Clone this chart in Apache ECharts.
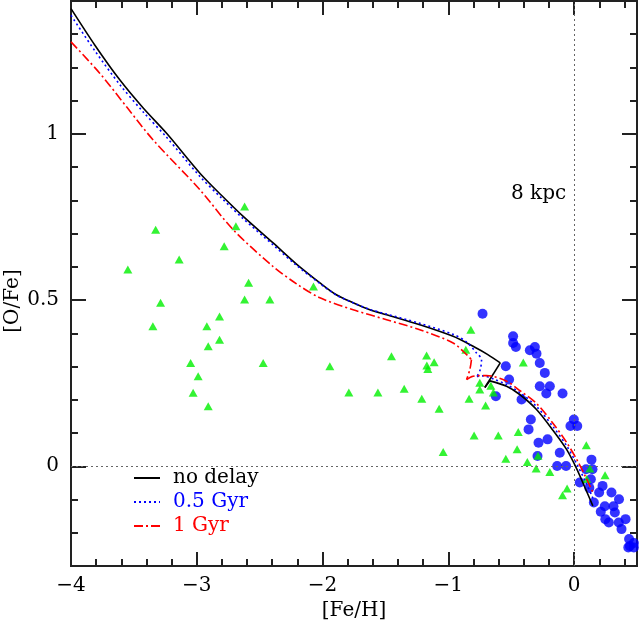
<!DOCTYPE html>
<html>
<head>
<meta charset="utf-8">
<title>[O/Fe] vs [Fe/H]</title>
<script src="https://cdn.jsdelivr.net/npm/echarts@6/dist/echarts.min.js"></script>
<style>
	html, body { margin: 0; padding: 0; background: #fff; }
	#chart { width: 639px; height: 629px; }
</style>
</head>
<body>
<div id="chart"></div>
<script>
'use strict';

/* model tracks, [Fe/H] and [O/Fe]; *Kinks = indices of sharp corners */
var noDelayFe = [-4.000, -3.810, -3.611, -3.426, -3.240, -2.975, -2.800, -2.631, -2.393, -2.212, -2.021, -1.894, -1.757, -1.624, -1.491, -1.227, -0.962, -0.789, -0.686, -0.587, -0.710, -0.670, -0.537, -0.432, -0.299, -0.167, -0.060, 0.019, 0.085, 0.149];
var noDelayO  = [1.377, 1.267, 1.162, 1.078, 1.002, 0.882, 0.814, 0.752, 0.672, 0.610, 0.552, 0.517, 0.492, 0.471, 0.456, 0.426, 0.391, 0.358, 0.336, 0.311, 0.237, 0.257, 0.241, 0.216, 0.171, 0.108, 0.051, -0.006, -0.063, -0.119];
var noDelayKinks = [19, 20, 21];

var gyr05Fe = [-4.000, -3.810, -3.611, -3.426, -3.240, -2.975, -2.800, -2.631, -2.393, -2.212, -2.021, -1.894, -1.757, -1.624, -1.491, -1.227, -0.962, -0.855, -0.776, -0.736, -0.746, -0.773, -0.726, -0.630, -0.537, -0.432, -0.299, -0.167, -0.060, 0.024, 0.093, 0.149];
var gyr05O  = [1.357, 1.250, 1.148, 1.066, 0.990, 0.872, 0.806, 0.745, 0.666, 0.606, 0.550, 0.516, 0.492, 0.472, 0.458, 0.430, 0.397, 0.374, 0.341, 0.321, 0.291, 0.270, 0.272, 0.261, 0.246, 0.222, 0.180, 0.119, 0.062, 0.005, -0.048, -0.096];
var gyr05Kinks = [21];

var gyr1Fe = [-4.000, -3.770, -3.555, -3.347, -2.975, -2.711, -2.393, -2.207, -2.021, -1.757, -1.491, -1.227, -0.962, -0.855, -0.816, -0.829, -0.855, -0.803, -0.696, -0.537, -0.432, -0.299, -0.167, -0.060, 0.029, 0.093, 0.149];
var gyr1O  = [1.277, 1.182, 1.080, 0.982, 0.832, 0.712, 0.601, 0.549, 0.507, 0.471, 0.441, 0.411, 0.371, 0.336, 0.321, 0.291, 0.261, 0.271, 0.273, 0.256, 0.228, 0.189, 0.129, 0.072, 0.015, -0.033, -0.078];
var gyr1Kinks = [14, 16];

/* disk stars (blue dots) */
var diskFe = [-0.728, -0.485, -0.485, -0.463, -0.352, -0.312, -0.299, -0.273, -0.543, -0.233, -0.517, -0.273, -0.193, -0.221, -0.092, -0.622, -0.418, -0.344, -0.362, -0.002, -0.029, 0.025, -0.211, -0.283, -0.114, -0.291, 0.138, -0.135, -0.064, 0.095, 0.146, 0.045, 0.133, 0.226, 0.121, 0.297, 0.199, 0.357, 0.157, 0.244, 0.313, 0.212, 0.324, 0.409, 0.248, 0.276, 0.355, 0.377, 0.437, 0.443, 0.475, 0.431, 0.475];
var diskO  = [0.459, 0.391, 0.371, 0.359, 0.349, 0.359, 0.339, 0.311, 0.301, 0.281, 0.261, 0.241, 0.241, 0.219, 0.219, 0.211, 0.201, 0.141, 0.111, 0.141, 0.121, 0.121, 0.081, 0.071, 0.041, 0.031, 0.020, 0.001, 0.001, -0.009, -0.009, -0.049, -0.039, -0.059, -0.065, -0.079, -0.079, -0.099, -0.109, -0.120, -0.120, -0.137, -0.139, -0.159, -0.159, -0.169, -0.169, -0.189, -0.219, -0.240, -0.231, -0.244, -0.244];

/* halo stars (green triangles) */
var haloFe = [-2.620, -2.689, -3.327, -2.782, -3.140, -3.548, -2.588, -2.072, -2.620, -2.419, -3.288, -2.819, -3.349, -2.920, -2.819, -2.909, -3.049, -2.472, -1.942, -2.989, -3.029, -2.909, -0.821, -0.861, -1.452, -1.173, -1.113, -1.171, -1.163, -1.791, -1.560, -1.351, -1.211, -1.073, -0.835, -0.750, -0.750, -0.662, -0.642, -0.704, -0.795, -0.603, -1.041, -0.404, -0.444, -0.453, -0.543, -0.372, -0.287, -0.302, -0.193, -0.056, -0.092, 0.097, 0.125, 0.246, 0.101];
var haloO  = [0.782, 0.722, 0.712, 0.662, 0.622, 0.592, 0.552, 0.541, 0.502, 0.502, 0.492, 0.451, 0.421, 0.421, 0.381, 0.361, 0.311, 0.311, 0.301, 0.271, 0.221, 0.181, 0.411, 0.351, 0.331, 0.333, 0.313, 0.303, 0.293, 0.222, 0.222, 0.233, 0.203, 0.173, 0.203, 0.251, 0.231, 0.242, 0.222, 0.183, 0.093, 0.093, 0.043, 0.312, 0.103, 0.051, 0.023, 0.013, 0.032, -0.007, -0.017, -0.067, -0.087, 0.063, -0.007, -0.027, -0.038];

/* axes */
var feRange = [-4, 0.5];
var oRange = [-0.3, 1.4];
var oMajorTicks = [0, 0.5, 1];
var legendNames = ['no delay', '0.5 Gyr', '1 Gyr'];

(function(window, undefined){

	var FONT = 'DejaVu Serif',
			AXIS_COLOR = '#222';

	/**
	 * zip two arrays into [x, y] pairs
	 * @param {Array} xs
	 * @param {Array} ys
	 * @return {Array}
	 */
	function pairs(xs, ys){
		var out = [];
		for(var i = 0, len = Math.min(xs.length, ys.length); i < len; i++){
			out.push([xs[i], ys[i]]);
		}
		return out;
	}

	function minus(v){
		return String(v).replace('-', '\u2212');
	}

	function xAxis(pos, showLabel){
		return {
			type: 'value', position: pos,
			min: feRange[0], max: feRange[1], interval: 1,
			axisLine: { show: true, onZero: false, lineStyle: { color: AXIS_COLOR, width: 2 } },
			axisTick: { show: true, inside: true, length: 14, lineStyle: { color: AXIS_COLOR, width: 2 } },
			minorTick: { show: true, splitNumber: 5, length: 7, lineStyle: { color: AXIS_COLOR, width: 2 } },
			axisLabel: {
				show: showLabel, margin: 10, showMaxLabel: false,
				color: '#000', fontFamily: FONT, fontSize: 20,
				formatter: minus,
			},
			splitLine: { show: false },
			name: showLabel ? '[Fe/H]' : '',
			nameLocation: 'middle', nameGap: 31,
			nameTextStyle: { color: '#000', fontFamily: FONT, fontSize: 20 },
		};
	}

	function yAxis(pos, major, showLabel){
		var axis = {
			type: 'value', position: pos,
			min: oRange[0], max: oRange[1],
			axisLine: { show: true, onZero: false, lineStyle: { color: AXIS_COLOR, width: 2 } },
			axisTick: { show: true, inside: true, length: 7, lineStyle: { color: AXIS_COLOR, width: 2 } },
			axisLabel: { show: false },
			splitLine: { show: false },
		};
		if(major){
			axis.axisTick.length = 15;
			axis.axisTick.customValues = oMajorTicks;
			axis.axisLabel = {
				show: showLabel, customValues: oMajorTicks, margin: 12,
				color: '#000', fontFamily: FONT, fontSize: 20,
				formatter: minus,
			};
		} else {
			axis.interval = 0.1;
		}
		return axis;
	}

	/**
	 * one model track, cut at its kinks so the smoothing keeps the corners sharp
	 * @return {Array} series list, all with the same name
	 */
	function track(name, xs, ys, kinks, color, type){
		var data = pairs(xs, ys),
				cuts = [0].concat(kinks, [data.length - 1]),
				list = [];

		for(var i = 0; i < cuts.length - 1; i++){
			list.push({
				name: name, type: 'line', data: data.slice(cuts[i], cuts[i+1] + 1),
				xAxisIndex: 0, yAxisIndex: 0,
				symbol: 'none', smooth: 0.3, z: 5,
				lineStyle: { color: color, width: 1.6, type: type },
				itemStyle: { color: color },
			});
		}
		return list;
	}

	var series = [
		{
			name: 'disk', type: 'scatter', data: pairs(diskFe, diskO),
			symbol: 'circle', symbolSize: 10, z: 2,
			itemStyle: { color: '#0000ff' },
			markLine: {
				silent: true, symbol: ['none', 'none'], label: { show: false },
				lineStyle: { color: '#666', width: 1, type: [2, 3] },
				data: [ { yAxis: 0 }, { xAxis: 0 } ],
			},
		},
		{
			name: 'halo', type: 'scatter', data: pairs(haloFe, haloO),
			symbol: 'triangle', symbolSize: [9, 8], z: 3,
			itemStyle: { color: '#00f000' },
		},
	].concat(
		track(legendNames[0], noDelayFe, noDelayO, noDelayKinks, '#000', 'solid'),
		track(legendNames[1], gyr05Fe, gyr05O, gyr05Kinks, '#0000ff', [2, 3]),
		track(legendNames[2], gyr1Fe, gyr1O, gyr1Kinks, '#ff0000', [9, 3, 2, 3])
	);

	var option = {
		animation: false,
		backgroundColor: '#fff',
		grid: { left: 71, right: 2, top: 1, bottom: 63 },
		xAxis: [ xAxis('bottom', true), xAxis('top', false) ],
		yAxis: [
			yAxis('left', false, false),
			yAxis('left', true, true),
			yAxis('right', false, false),
			yAxis('right', true, false),
		],
		legend: {
			orient: 'vertical', left: 133, top: 468,
			itemWidth: 26, itemHeight: 14, itemGap: 4, padding: 0,
			itemStyle: { opacity: 0 },
			textStyle: { fontFamily: FONT, fontSize: 20, padding: [0, 0, 0, 8] },
			data: [
				{ name: legendNames[0], textStyle: { color: '#000' } },
				{ name: legendNames[1], textStyle: { color: '#0000ff' } },
				{ name: legendNames[2], textStyle: { color: '#ff0000' } },
			],
		},
		graphic: [
			{
				type: 'text', left: 511, top: 184, silent: true,
				style: { text: '8 kpc', fill: '#000', font: '20px "DejaVu Serif"' },
			},
			{
				type: 'text', x: 3, y: 301, rotation: Math.PI / 2, silent: true,
				style: { text: '[O/Fe]', fill: '#000', font: '20px "DejaVu Serif"', align: 'center', verticalAlign: 'top' },
			},
		],
		series: series,
	};

	echarts.init(document.getElementById('chart'), null, { renderer: 'canvas' }).setOption(option);

})(typeof window !== 'undefined' ? window : this, undefined);
</script>
</body>
</html>
